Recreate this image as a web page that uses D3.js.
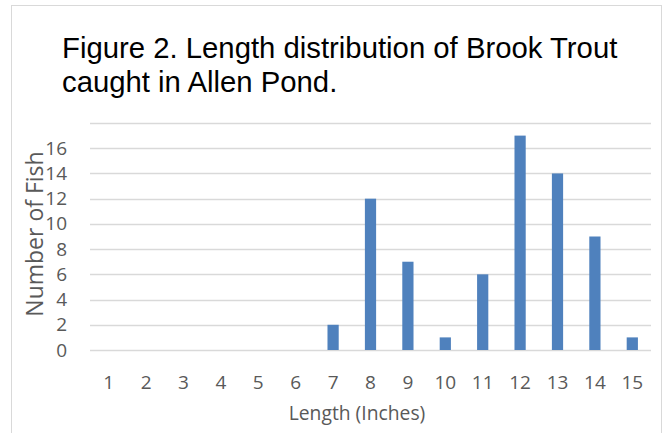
<!DOCTYPE html>
<html><head><meta charset="utf-8">
<script src="https://cdn.jsdelivr.net/npm/d3@7"></script>
<style>body{margin:0;background:#fff}svg{display:block}</style>
</head><body>
<svg id="c" width="663" height="433"></svg>
<script>
const lengths = ["1","2","3","4","5","6","7","8","9","10","11","12","13","14","15"];
const counts = [0,0,0,0,0,0,2,12,7,1,6,17,14,9,1];
const gridTicks = [0,2,4,6,8,10,12,14,16,18];
const labelTicks = [0,2,4,6,8,10,12,14,16];
const titleLines = ["Figure 2. Length distribution of Brook Trout","caught in Allen Pond."];

const svg = d3.select("#c");
svg.append("rect").attr("x",11.5).attr("y",5.5).attr("width",650).attr("height",440)
  .attr("fill","#fff").attr("stroke","#d9d9d9");

const x = d3.scaleBand().domain(lengths).range([90,651]).paddingInner(0.7).paddingOuter(0.35);
const y = d3.scaleLinear().domain([0,18]).range([350,123]);

const t = svg.append("g").attr("font-family","Liberation Sans, Arial, sans-serif").attr("font-size",29.3).attr("fill","#000");
titleLines.forEach((s,i)=>t.append("text").attr("x",62).attr("y",58+i*34).text(s));

svg.append("g").selectAll("line").data(gridTicks).join("line")
  .attr("x1",90).attr("x2",651).attr("y1",d=>Math.round(y(d))+0.5).attr("y2",d=>Math.round(y(d))+0.5)
  .attr("stroke","#d9d9d9").attr("stroke-width",1.3);

const yAxis = d3.axisLeft(y).tickValues(labelTicks).tickSize(0).tickPadding(0);
const gy = svg.append("g").attr("transform","translate(67,0)").call(yAxis);
gy.select(".domain").remove();
gy.selectAll("text").attr("font-family","Open Sans, sans-serif").attr("font-size",19).attr("fill","#595959");

svg.append("g").selectAll("rect").data(counts).join("rect")
  .attr("x",(d,i)=>x(lengths[i])).attr("width",x.bandwidth())
  .attr("y",d=>y(d)).attr("height",d=>y(0)-y(d))
  .attr("fill","#4f81bd");

const xAxis = d3.axisBottom(x).tickSize(0).tickPadding(0);
const gx = svg.append("g").attr("transform","translate(0,375)").call(xAxis);
gx.select(".domain").remove();
gx.selectAll("text").attr("font-family","Open Sans, sans-serif").attr("font-size",19).attr("fill","#595959");

svg.append("text").attr("x",357).attr("y",420).attr("text-anchor","middle")
  .attr("font-family","Open Sans, sans-serif").attr("font-size",19.3).attr("fill","#595959").text("Length (Inches)");
svg.append("text").attr("transform","translate(43,234) rotate(-90)").attr("text-anchor","middle")
  .attr("font-family","Open Sans, sans-serif").attr("font-size",23).attr("fill","#595959").text("Number of Fish");
</script>
</body></html>
